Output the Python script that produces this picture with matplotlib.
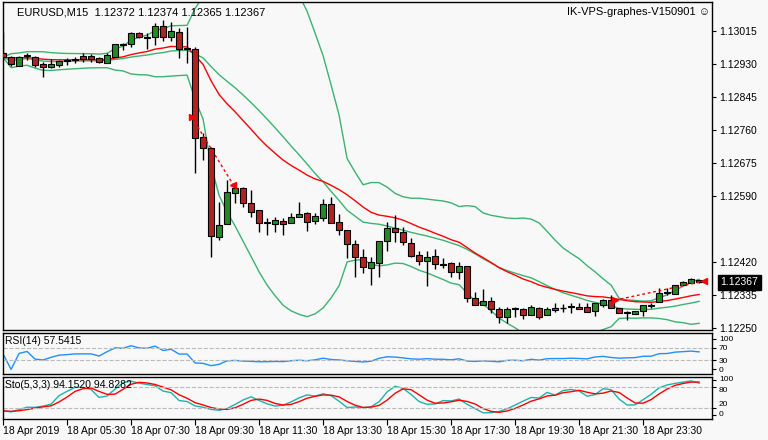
import numpy as np
import pandas as pd
import matplotlib
matplotlib.use("Agg")
import matplotlib.pyplot as plt

plt.rcParams['font.family'] = ['Liberation Sans', 'DejaVu Sans']

# EURUSD M15 candles
opens = [1.12958, 1.12948, 1.12925, 1.12951, 1.12948, 1.12930, 1.12922, 1.12927, 1.12938, 1.12940,
         1.12951, 1.12951, 1.12945, 1.12932, 1.12948, 1.12981, 1.12981, 1.13010, 1.12999, 1.12999,
         1.13028, 1.12999, 1.13012, 1.12971, 1.12969, 1.12741, 1.12713, 1.12484, 1.12517, 1.12597,
         1.12610, 1.12571, 1.12553, 1.12520, 1.12517, 1.12525, 1.12520, 1.12535, 1.12545, 1.12525,
         1.12533, 1.12569, 1.12522, 1.12502, 1.12466, 1.12432, 1.12404, 1.12416, 1.12473, 1.12507,
         1.12496, 1.12468, 1.12437, 1.12422, 1.12435, 1.12414, 1.12416, 1.12393, 1.12409, 1.12326,
         1.12308, 1.12318, 1.12298, 1.12277, 1.12298, 1.12298, 1.12282, 1.12300, 1.12282, 1.12295,
         1.12300, 1.12303, 1.12303, 1.12303, 1.12293, 1.12308, 1.12321, 1.12300, 1.12287, 1.12285,
         1.12293, 1.12305, 1.12316, 1.12339, 1.12336, 1.12360, 1.12365, 1.12372]
highs = [1.13012, 1.12951, 1.12951, 1.12958, 1.12951, 1.12935, 1.12943, 1.12940, 1.12945, 1.12948,
         1.12958, 1.12956, 1.12948, 1.12958, 1.12981, 1.12984, 1.13012, 1.13012, 1.13010, 1.13036,
         1.13043, 1.13038, 1.13023, 1.13025, 1.12974, 1.12752, 1.12716, 1.12574, 1.12631, 1.12613,
         1.12613, 1.12605, 1.12553, 1.12533, 1.12535, 1.12533, 1.12545, 1.12574, 1.12548, 1.12545,
         1.12582, 1.12587, 1.12543, 1.12502, 1.12476, 1.12453, 1.12432, 1.12473, 1.12522, 1.12540,
         1.12509, 1.12481, 1.12447, 1.12447, 1.12453, 1.12429, 1.12419, 1.12419, 1.12409, 1.12342,
         1.12349, 1.12329, 1.12303, 1.12303, 1.12303, 1.12300, 1.12308, 1.12303, 1.12303, 1.12313,
         1.12311, 1.12313, 1.12313, 1.12313, 1.12313, 1.12324, 1.12334, 1.12300, 1.12293, 1.12293,
         1.12308, 1.12313, 1.12352, 1.12352, 1.12360, 1.12370, 1.12378, 1.12374]
lows = [1.12940, 1.12925, 1.12925, 1.12940, 1.12922, 1.12896, 1.12920, 1.12922, 1.12927, 1.12932,
        1.12935, 1.12935, 1.12932, 1.12932, 1.12948, 1.12966, 1.12974, 1.12997, 1.12969, 1.12979,
        1.12989, 1.12989, 1.12945, 1.12932, 1.12649, 1.12682, 1.12432, 1.12476, 1.12517, 1.12571,
        1.12561, 1.12535, 1.12496, 1.12489, 1.12496, 1.12489, 1.12520, 1.12535, 1.12499, 1.12517,
        1.12525, 1.12520, 1.12489, 1.12429, 1.12380, 1.12391, 1.12360, 1.12380, 1.12447, 1.12471,
        1.12463, 1.12432, 1.12411, 1.12357, 1.12401, 1.12404, 1.12380, 1.12375, 1.12316, 1.12308,
        1.12308, 1.12287, 1.12262, 1.12262, 1.12277, 1.12272, 1.12282, 1.12272, 1.12282, 1.12290,
        1.12290, 1.12287, 1.12298, 1.12290, 1.12280, 1.12303, 1.12300, 1.12287, 1.12269, 1.12285,
        1.12280, 1.12300, 1.12316, 1.12334, 1.12336, 1.12360, 1.12365, 1.12365]
closes = [1.12948, 1.12930, 1.12948, 1.12953, 1.12927, 1.12922, 1.12930, 1.12938, 1.12940, 1.12943,
          1.12943, 1.12943, 1.12935, 1.12953, 1.12981, 1.12979, 1.13010, 1.12999, 1.12997, 1.13028,
          1.12999, 1.13015, 1.12969, 1.12969, 1.12739, 1.12713, 1.12486, 1.12515, 1.12600, 1.12610,
          1.12571, 1.12548, 1.12520, 1.12522, 1.12527, 1.12517, 1.12535, 1.12543, 1.12522, 1.12538,
          1.12569, 1.12520, 1.12502, 1.12466, 1.12432, 1.12406, 1.12419, 1.12473, 1.12507, 1.12496,
          1.12471, 1.12435, 1.12422, 1.12432, 1.12414, 1.12411, 1.12393, 1.12409, 1.12326, 1.12308,
          1.12318, 1.12298, 1.12277, 1.12298, 1.12300, 1.12282, 1.12303, 1.12277, 1.12298, 1.12300,
          1.12300, 1.12305, 1.12298, 1.12290, 1.12313, 1.12321, 1.12300, 1.12287, 1.12290, 1.12293,
          1.12308, 1.12308, 1.12339, 1.12341, 1.12360, 1.12367, 1.12375, 1.12367]

time_labels = ["18 Apr 2019", "18 Apr 05:30", "18 Apr 07:30", "18 Apr 09:30", "18 Apr 11:30",
               "18 Apr 13:30", "18 Apr 15:30", "18 Apr 17:30", "18 Apr 19:30", "18 Apr 21:30",
               "18 Apr 23:30"]
price_ticks = [1.13015, 1.12930, 1.12845, 1.12760, 1.12675, 1.12590, 1.12420, 1.12335, 1.12250]

# trade arrows (bar index, price)
trade1_x = [23.6, 28.8]
trade1_y = [1.12793, 1.12618]
trade2_x = [76.5, 87.6]
trade2_y = [1.12321, 1.12370]

close = pd.Series(closes)
n = len(closes)
idx = np.arange(n)

# indicators
mid = close.rolling(20, min_periods=1).mean()
sd = close.rolling(20, min_periods=1).std(ddof=0)
upper = mid + 2 * sd
lower = mid - 2 * sd
ema = close.ewm(span=20, adjust=False).mean()

delta = close.diff().fillna(0)
gain = delta.clip(lower=0).ewm(alpha=1 / 14, adjust=False).mean()
loss = (-delta.clip(upper=0)).ewm(alpha=1 / 14, adjust=False).mean()
rsi = (100 - 100 / (1 + gain / loss.replace(0, np.nan))).fillna(50)

hh = pd.Series(highs).rolling(5, min_periods=1).max()
ll = pd.Series(lows).rolling(5, min_periods=1).min()
num = (close - ll).rolling(3, min_periods=1).sum()
den = (hh - ll).rolling(3, min_periods=1).sum()
stoch_k = 100 * num / den
stoch_d = stoch_k.rolling(3, min_periods=1).mean()

BG = "#f8f8f8"
BULL = "#228b22"
BEAR = "#b22222"
BAND = "#3cb371"
FS = 7.5

fig = plt.figure(figsize=(7.68, 4.40), dpi=100, facecolor=BG)
ax = fig.add_axes([0.004, 0.25, 0.923, 0.745], facecolor=BG)
ax_rsi = fig.add_axes([0.004, 0.150, 0.923, 0.093], facecolor=BG)
ax_sto = fig.add_axes([0.004, 0.048, 0.923, 0.095], facecolor=BG)

x_max = 88.6
for a in (ax, ax_rsi, ax_sto):
    a.set_xlim(0, x_max)
    a.yaxis.tick_right()
    a.tick_params(labelsize=FS, length=3, width=0.8, pad=2)
    for s in a.spines.values():
        s.set_linewidth(1.0)

# candles
w = 0.7
for i in idx:
    o, h, l, c = opens[i], highs[i], lows[i], closes[i]
    ax.vlines(i, l, h, color="black", linewidth=1, zorder=3)
    if abs(c - o) < 0.000015:
        ax.hlines(c, i - w / 2, i + w / 2, color="black", linewidth=1, zorder=4)
    else:
        col = BULL if c > o else BEAR
        ax.add_patch(plt.Rectangle((i - w / 2, min(o, c)), w, abs(c - o), facecolor=col,
                                   edgecolor="black", linewidth=0.8, zorder=4))

ax.plot(idx, upper, color=BAND, lw=1, zorder=2)
ax.plot(idx, mid, color=BAND, lw=1, zorder=2)
ax.plot(idx, lower, color=BAND, lw=1, zorder=2)
ax.plot(idx, ema, color="red", lw=1, zorder=2)

for tx, ty in ((trade1_x, trade1_y), (trade2_x, trade2_y)):
    ax.plot(tx, ty, color="red", lw=1, ls=(0, (2, 2)), zorder=5)
    ax.plot(tx[0], ty[0], marker=">", color="red", ms=5, zorder=6)
    ax.plot(tx[1], ty[1], marker="<", color="red", ms=5, zorder=6)

ax.set_ylim(1.12244, 1.13090)
ax.set_yticks(price_ticks)
ax.set_yticklabels([f"{p:.5f}" for p in price_ticks])
ax.set_xticks([])
ax.text(1.012, closes[-1], f"{closes[-1]:.5f}", transform=ax.get_yaxis_transform(),
        color="white", fontsize=FS, va="center", ha="left",
        bbox=dict(boxstyle="square,pad=0.25", fc="black", ec="black"))
ax.text(0.02, 0.985, "EURUSD,M15  1.12372 1.12374 1.12365 1.12367", transform=ax.transAxes,
        fontsize=8, va="top", ha="left")
ax.text(0.998, 0.985, "IK-VPS-graphes-V150901 \u263a", transform=ax.transAxes,
        fontsize=8, va="top", ha="right")

# RSI
ax_rsi.plot(idx, rsi, color="#1e90ff", lw=1)
for lvl in (70, 30):
    ax_rsi.axhline(lvl, color="#bbbbbb", lw=0.8, ls="--")
ax_rsi.set_ylim(-15, 118)
ax_rsi.set_yticks([100, 70, 30, 0])
ax_rsi.set_xticks([])
ax_rsi.tick_params(axis="y", labelsize=6)
ax_rsi.text(0.003, 0.93, "RSI(14) 57.5415", transform=ax_rsi.transAxes, fontsize=FS, va="top")

# Stochastic
ax_sto.plot(idx, stoch_k, color="#20b2aa", lw=1)
ax_sto.plot(idx, stoch_d, color="red", lw=1)
for lvl in (80, 20):
    ax_sto.axhline(lvl, color="#bbbbbb", lw=0.8, ls="--")
ax_sto.set_ylim(-12, 108)
ax_sto.set_yticks([100, 80, 20, 0])
ax_sto.tick_params(axis="y", labelsize=6)
for lab, va in zip(ax_sto.get_yticklabels(), ["center", "top", "bottom", "center"]):
    lab.set_va(va)
ax_sto.text(0.003, 0.93, "Sto(5,3,3) 94.1520 94.8282", transform=ax_sto.transAxes,
            fontsize=FS, va="top")
ax_sto.set_xticks(np.arange(len(time_labels)) * 8)
ax_sto.set_xticklabels(time_labels, ha="left")
ax_sto.tick_params(axis="x", length=4, pad=1)

fig.savefig("out.png", dpi=100, facecolor=BG)
